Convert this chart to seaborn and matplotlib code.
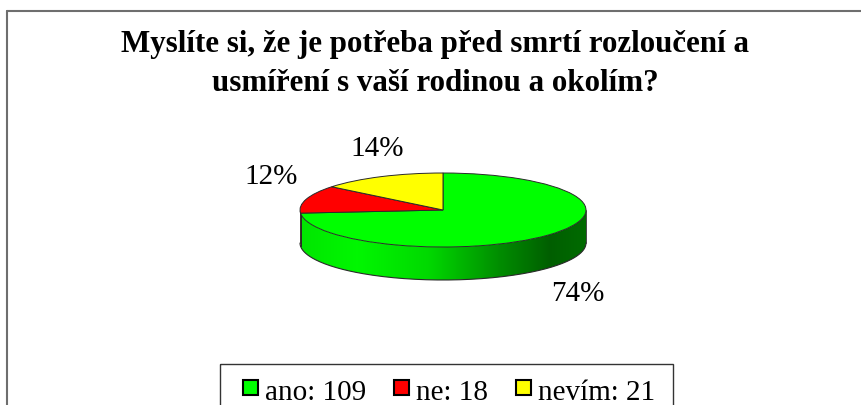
import numpy as np
import matplotlib
matplotlib.use("Agg")
import matplotlib.pyplot as plt
from matplotlib.patches import Polygon, Rectangle
from matplotlib.lines import Line2D
import seaborn as sns

# ---- data ----
title_lines = ["Myslíte si, že je potřeba před smrtí rozloučení a",
               "usmíření s vaší rodinou a okolím?"]
categories = ["ano", "ne", "nevím"]
counts = [109, 18, 21]
colors = ["#00FF00", "#FF0000", "#FFFF00"]

sns.set_theme(style="white")
plt.rcParams["font.family"] = ["Liberation Serif", "DejaVu Serif"]

W, H = 861, 405
fig = plt.figure(figsize=(W / 100, H / 100), dpi=100)
fig.patch.set_facecolor("white")

# pixel overlay axes
bg = fig.add_axes([0, 0, 1, 1])
bg.set_xlim(0, W)
bg.set_ylim(H, 0)
bg.axis("off")

# pie geometry (pixels)
cx, cy, rx, ry = 443, 210, 143, 37
thick = 33 / ry
xl, yl_lo, yl_hi = 1.5, -3.0, 2.0
left_px = cx - xl * rx
top_px = cy - yl_hi * ry
bot_px = cy - yl_lo * ry
ax = fig.add_axes([left_px / W, (H - bot_px) / H, 2 * xl * rx / W, (bot_px - top_px) / H])

total = sum(counts)
fracs = np.array(counts) / total

ax.pie(counts, startangle=90, counterclock=False, colors=colors, radius=1,
       wedgeprops=dict(edgecolor="#2a2a2a", linewidth=0.7))
ax.set_aspect("auto")
ax.set_xlim(-xl, xl)
ax.set_ylim(yl_lo, yl_hi)
ax.axis("off")

def shade(x):
    return np.interp(x, [-1, -0.6, -0.1, 0.4, 0.75, 1], [0.90, 0.97, 0.85, 0.55, 0.37, 0.42])

gx = np.linspace(-1, 1, 600)
cum = np.concatenate([[0], np.cumsum(fracs)])
for i in range(len(counts)):
    lo = 90 - 360 * cum[i + 1]
    hi = 90 - 360 * cum[i]
    base = np.array(matplotlib.colors.to_rgb(colors[i]))
    for sh in (-360, 0, 360):
        a0 = max(lo + sh, 180)
        a1 = min(hi + sh, 360)
        if a1 <= a0:
            continue
        angs = np.radians(np.linspace(a0, a1, 200))
        top = np.column_stack([np.cos(angs), np.sin(angs)])
        bot = np.column_stack([np.cos(angs[::-1]), np.sin(angs[::-1]) - thick])
        poly = Polygon(np.vstack([top, bot]), closed=True, facecolor="none",
                       edgecolor="none", zorder=0.5)
        ax.add_patch(poly)
        img = np.clip(base[None, None, :] * shade(gx)[None, :, None], 0, 1)
        img = np.repeat(img, 2, axis=0)
        im = ax.imshow(img, extent=(-1, 1, -1 - thick, 0.05), aspect="auto",
                       interpolation="bilinear", zorder=0.5)
        im.set_clip_path(poly)
        for a in (a0, a1):
            ar = np.radians(a)
            ax.add_line(Line2D([np.cos(ar)] * 2, [np.sin(ar), np.sin(ar) - thick],
                               color="#2a2a2a", lw=0.6, zorder=0.6))

ax.set_xlim(-xl, xl)
ax.set_ylim(yl_lo, yl_hi)

# bottom outline of side
tt = np.radians(np.linspace(180, 360, 200))
ax.plot(np.cos(tt), np.sin(tt) - thick, color="#2a2a2a", lw=0.8, zorder=0.6)

# percent labels
lrx, lry = 175, 72
nudges = [(6, 2), (-5, -12), (10, 4)]
for i in range(len(counts)):
    mid = np.radians(90 - 360 * (cum[i] + cum[i + 1]) / 2)
    px = cx + lrx * np.cos(mid) + nudges[i][0]
    py = cy - lry * np.sin(mid) + (33 if np.sin(mid) < 0 else 0) + nudges[i][1]
    bg.text(px, py, f"{round(fracs[i] * 100)}%", ha="center", va="center",
            fontsize=21, color="black")

# title
bg.text(435, 52, title_lines[0], ha="center", va="baseline", fontsize=22.3,
        fontweight="bold", color="black")
bg.text(435, 91, title_lines[1], ha="center", va="baseline", fontsize=22.3,
        fontweight="bold", color="black")

# chart border (top and left)
bg.add_line(Line2D([6.7, W], [10.8, 10.8], color="#6e6e6e", lw=1.5))
bg.add_line(Line2D([6.7, 6.7], [10.8, H], color="#6e6e6e", lw=1.5))

# legend
bg.add_patch(Rectangle((220, 364), 453, 70, facecolor="none", edgecolor="#333333", lw=1.0))
renderer = fig.canvas.get_renderer()
x = 243
for cat, val, col in zip(categories, counts, colors):
    bg.add_patch(Rectangle((x, 380), 15, 15, facecolor=col, edgecolor="black", lw=1.5))
    t = bg.text(x + 22, 400, f"{cat}: {val}", ha="left", va="baseline",
                fontsize=21, color="black")
    bb = t.get_window_extent(renderer)
    x = x + 22 + bb.width + 28

fig.savefig("out.png", dpi=100, facecolor="white")
